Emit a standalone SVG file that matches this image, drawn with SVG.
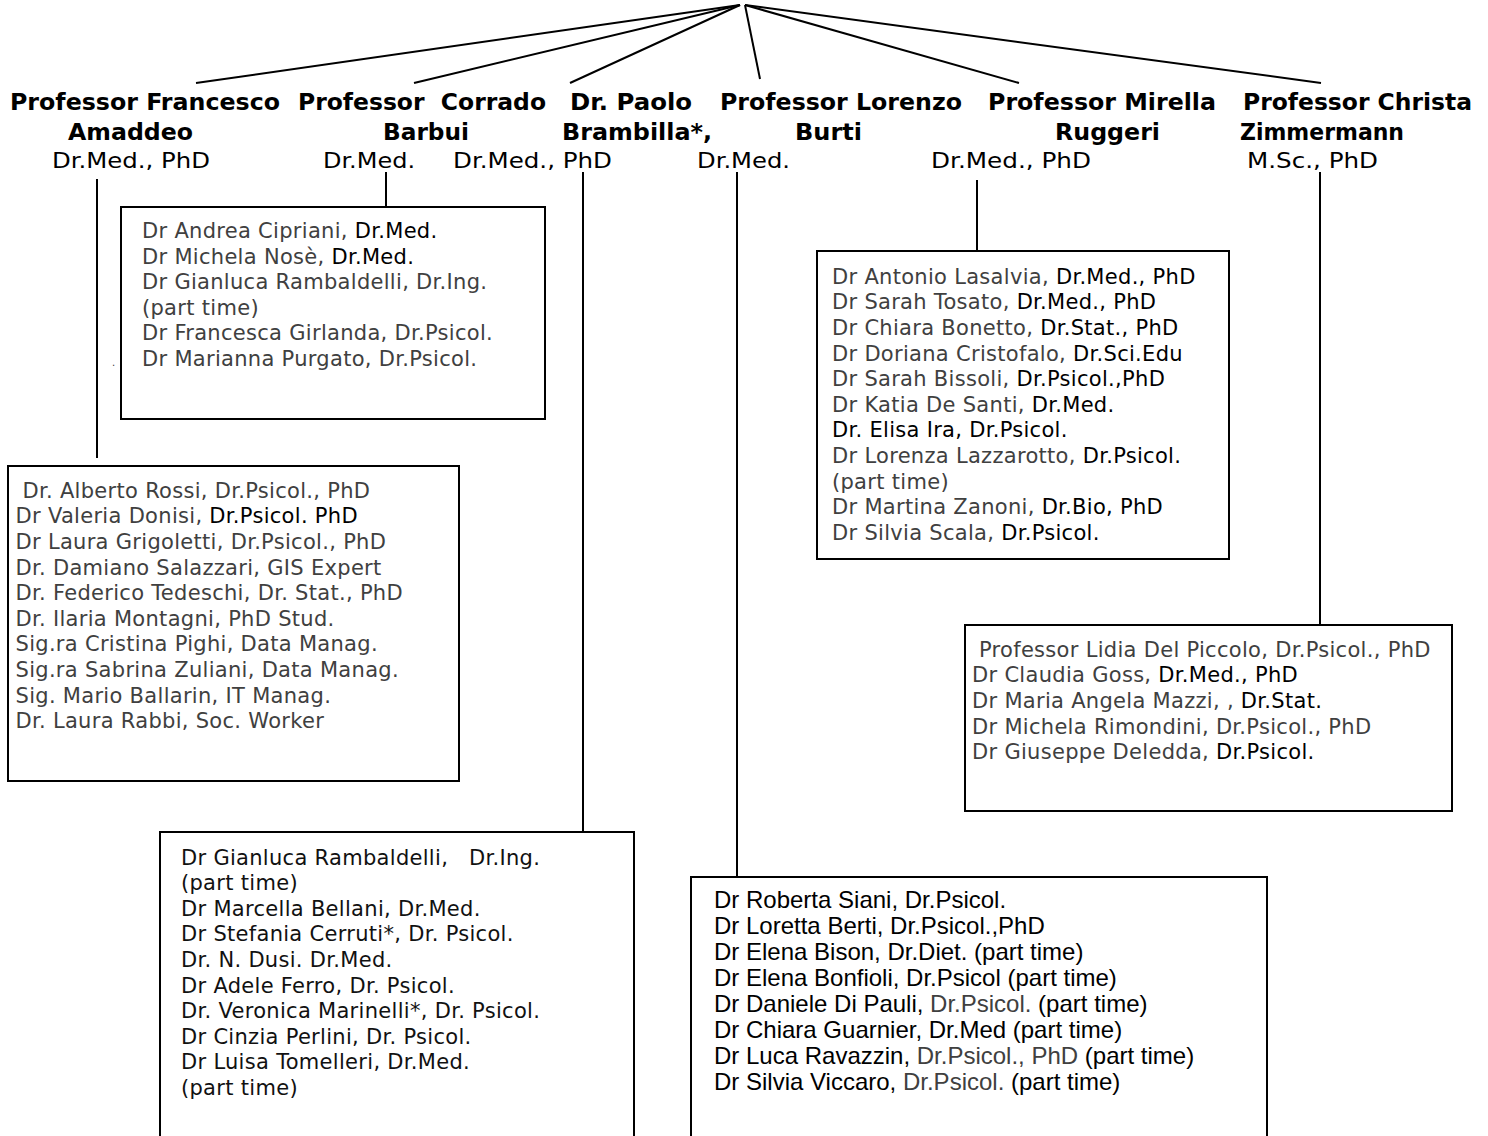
<svg xmlns="http://www.w3.org/2000/svg" width="1488" height="1136" viewBox="0 0 1488 1136">
<style>
.bg{fill:#fff}
.box{fill:#fff;stroke:#000;stroke-width:2}
.ln{stroke:#000;stroke-width:2;fill:none}
.h{font-family:"DejaVu Sans",Verdana,sans-serif;font-size:23px;font-weight:bold;fill:#000}
.hr{font-family:"DejaVu Sans",Verdana,sans-serif;font-size:22px;fill:#000}
.t{font-family:"DejaVu Sans",Verdana,sans-serif;font-size:21px;letter-spacing:0.3px;fill:#404040;white-space:pre}
.tb{font-family:"DejaVu Sans",Verdana,sans-serif;font-size:21px;letter-spacing:0.3px;fill:#111;white-space:pre}
.ta{font-family:"Liberation Sans",Arial,sans-serif;font-size:24px;fill:#000;white-space:pre}
.k{fill:#000}
.g{fill:#404040}
</style>
<rect class="bg" x="0" y="0" width="1488" height="1136"/>

<g id="connectors">
  <line class="ln" x1="740" y1="5" x2="196" y2="83"/>
  <line class="ln" x1="740" y1="5" x2="414" y2="83"/>
  <line class="ln" x1="740" y1="5" x2="570" y2="83"/>
  <line class="ln" x1="745" y1="5" x2="760" y2="79"/>
  <line class="ln" x1="745" y1="5" x2="1019" y2="83"/>
  <line class="ln" x1="745" y1="5" x2="1321" y2="83"/>
  <line class="ln" x1="97" y1="179" x2="97" y2="458"/>
  <line class="ln" x1="386" y1="172" x2="386" y2="207"/>
  <line class="ln" x1="583" y1="172" x2="583" y2="832"/>
  <line class="ln" x1="737" y1="172" x2="737" y2="877"/>
  <line class="ln" x1="977" y1="180" x2="977" y2="251"/>
  <line class="ln" x1="1320" y1="172" x2="1320" y2="625"/>
</g>

<g id="head-amaddeo">
  <text class="h" x="10" y="110" textLength="270" lengthAdjust="spacingAndGlyphs">Professor Francesco</text>
  <text class="h" x="68" y="140" textLength="125" lengthAdjust="spacingAndGlyphs">Amaddeo</text>
  <text class="hr" x="52" y="168" textLength="158" lengthAdjust="spacingAndGlyphs">Dr.Med., PhD</text>
</g>
<g id="head-barbui">
  <text class="h" x="298" y="110" textLength="248" lengthAdjust="spacingAndGlyphs" style="white-space:pre">Professor  Corrado</text>
  <text class="h" x="383" y="140" textLength="86" lengthAdjust="spacingAndGlyphs">Barbui</text>
  <text class="hr" x="323" y="168" textLength="92" lengthAdjust="spacingAndGlyphs">Dr.Med.</text>
</g>
<g id="head-brambilla">
  <text class="h" x="570" y="110" textLength="122" lengthAdjust="spacingAndGlyphs">Dr. Paolo</text>
  <text class="h" x="562" y="140" textLength="150" lengthAdjust="spacingAndGlyphs">Brambilla*,</text>
  <text class="hr" x="453" y="168" textLength="159" lengthAdjust="spacingAndGlyphs">Dr.Med., PhD</text>
</g>
<g id="head-burti">
  <text class="h" x="720" y="110" textLength="242" lengthAdjust="spacingAndGlyphs">Professor Lorenzo</text>
  <text class="h" x="795" y="140" textLength="67" lengthAdjust="spacingAndGlyphs">Burti</text>
  <text class="hr" x="697" y="168" textLength="93" lengthAdjust="spacingAndGlyphs">Dr.Med.</text>
</g>
<g id="head-ruggeri">
  <text class="h" x="988" y="110" textLength="228" lengthAdjust="spacingAndGlyphs">Professor Mirella</text>
  <text class="h" x="1055" y="140" textLength="105" lengthAdjust="spacingAndGlyphs">Ruggeri</text>
  <text class="hr" x="931" y="168" textLength="160" lengthAdjust="spacingAndGlyphs">Dr.Med., PhD</text>
</g>
<g id="head-zimmermann">
  <text class="h" x="1243" y="110" textLength="229" lengthAdjust="spacingAndGlyphs">Professor Christa</text>
  <text class="h" x="1240" y="140" textLength="164" lengthAdjust="spacingAndGlyphs">Zimmermann</text>
  <text class="hr" x="1247" y="168" textLength="131" lengthAdjust="spacingAndGlyphs">M.Sc., PhD</text>
</g>

<g id="box-barbui">
  <rect class="box" x="121" y="207" width="424" height="212"/>
  <text class="t" x="142" y="238">Dr Andrea Cipriani, <tspan class="k">Dr.Med.</tspan></text>
  <text class="t" x="142" y="263.6">Dr Michela Nosè, <tspan class="k">Dr.Med.</tspan></text>
  <text class="t" x="142" y="289.2">Dr Gianluca Rambaldelli, Dr.Ing.</text>
  <text class="t" x="142" y="314.8">(part time)</text>
  <text class="t" x="142" y="340.4">Dr Francesca Girlanda, Dr.Psicol.</text>
  <text class="t" x="142" y="366">Dr Marianna Purgato, Dr.Psicol.</text>
  <text class="t" x="112" y="366" style="font-size:10px">.</text>
</g>

<g id="box-amaddeo">
  <rect class="box" x="8" y="466" width="451" height="315"/>
  <text class="t" x="15.5" y="497.5"> Dr. Alberto Rossi, Dr.Psicol., PhD</text>
  <text class="t" x="15.5" y="523.2">Dr Valeria Donisi, <tspan class="k">Dr.Psicol. PhD</tspan></text>
  <text class="t" x="15.5" y="548.8">Dr Laura Grigoletti, Dr.Psicol., PhD</text>
  <text class="t" x="15.5" y="574.5">Dr. Damiano Salazzari, GIS Expert</text>
  <text class="t" x="15.5" y="600.1">Dr. Federico Tedeschi, Dr. Stat., PhD</text>
  <text class="t" x="15.5" y="625.8">Dr. Ilaria Montagni, PhD Stud.</text>
  <text class="t" x="15.5" y="651.4">Sig.ra Cristina Pighi, Data Manag.</text>
  <text class="t" x="15.5" y="677.1">Sig.ra Sabrina Zuliani, Data Manag.</text>
  <text class="t" x="15.5" y="702.7">Sig. Mario Ballarin, IT Manag.</text>
  <text class="t" x="15.5" y="728.4">Dr. Laura Rabbi, Soc. Worker</text>
</g>

<g id="box-ruggeri">
  <rect class="box" x="817" y="251" width="412" height="308"/>
  <text class="t" x="832" y="283.5">Dr Antonio Lasalvia, <tspan class="k">Dr.Med., PhD</tspan></text>
  <text class="t" x="832" y="309.2">Dr Sarah Tosato, <tspan class="k">Dr.Med., PhD</tspan></text>
  <text class="t" x="832" y="334.8">Dr Chiara Bonetto, <tspan class="k">Dr.Stat., PhD</tspan></text>
  <text class="t" x="832" y="360.5">Dr Doriana Cristofalo, <tspan class="k">Dr.Sci.Edu</tspan></text>
  <text class="t" x="832" y="386.1">Dr Sarah Bissoli, <tspan class="k">Dr.Psicol.,PhD</tspan></text>
  <text class="t" x="832" y="411.8">Dr Katia De Santi, <tspan class="k">Dr.Med.</tspan></text>
  <text class="t" x="832" y="437.4"><tspan class="k">Dr. Elisa Ira, Dr.Psicol.</tspan></text>
  <text class="t" x="832" y="463.1">Dr Lorenza Lazzarotto, <tspan class="k">Dr.Psicol.</tspan></text>
  <text class="t" x="832" y="488.7">(part time)</text>
  <text class="t" x="832" y="514.4">Dr Martina Zanoni, <tspan class="k">Dr.Bio, PhD</tspan></text>
  <text class="t" x="832" y="540">Dr Silvia Scala, <tspan class="k">Dr.Psicol.</tspan></text>
</g>

<g id="box-zimmermann">
  <rect class="box" x="965" y="625" width="487" height="186"/>
  <text class="t" x="972" y="656.5"> Professor Lidia Del Piccolo, Dr.Psicol., PhD</text>
  <text class="t" x="972" y="682.2">Dr Claudia Goss, <tspan class="k">Dr.Med., PhD</tspan></text>
  <text class="t" x="972" y="707.8">Dr Maria Angela Mazzi, , <tspan class="k">Dr.Stat.</tspan></text>
  <text class="t" x="972" y="733.5">Dr Michela Rimondini, Dr.Psicol., PhD</text>
  <text class="t" x="972" y="759.1">Dr Giuseppe Deledda, <tspan class="k">Dr.Psicol.</tspan></text>
</g>

<g id="box-brambilla">
  <rect class="box" x="160" y="832" width="474" height="320"/>
  <text class="tb" x="181" y="864.5">Dr Gianluca Rambaldelli,   Dr.Ing.</text>
  <text class="tb" x="181" y="890.1">(part time)</text>
  <text class="tb" x="181" y="915.7">Dr Marcella Bellani, Dr.Med.</text>
  <text class="tb" x="181" y="941.3">Dr Stefania Cerruti*, Dr. Psicol.</text>
  <text class="tb" x="181" y="966.9">Dr. N. Dusi. Dr.Med.</text>
  <text class="tb" x="181" y="992.5">Dr Adele Ferro, Dr. Psicol.</text>
  <text class="tb" x="181" y="1018.1">Dr. Veronica Marinelli*, Dr. Psicol.</text>
  <text class="tb" x="181" y="1043.7">Dr Cinzia Perlini, Dr. Psicol.</text>
  <text class="tb" x="181" y="1069.3">Dr Luisa Tomelleri, Dr.Med.</text>
  <text class="tb" x="181" y="1094.9">(part time)</text>
</g>

<g id="box-burti">
  <rect class="box" x="691" y="877" width="576" height="275"/>
  <text class="ta" x="714" y="908">Dr Roberta Siani, Dr.Psicol.</text>
  <text class="ta" x="714" y="934">Dr Loretta Berti, Dr.Psicol.,PhD</text>
  <text class="ta" x="714" y="960">Dr Elena Bison, Dr.Diet. (part time)</text>
  <text class="ta" x="714" y="986">Dr Elena Bonfioli, Dr.Psicol (part time)</text>
  <text class="ta" x="714" y="1012">Dr Daniele Di Pauli, <tspan class="g">Dr.Psicol.</tspan> (part time)</text>
  <text class="ta" x="714" y="1038">Dr Chiara Guarnier, Dr.Med (part time)</text>
  <text class="ta" x="714" y="1064">Dr Luca Ravazzin, <tspan class="g">Dr.Psicol., PhD</tspan> (part time)</text>
  <text class="ta" x="714" y="1090">Dr Silvia Viccaro, <tspan class="g">Dr.Psicol.</tspan> (part time)</text>
</g>
</svg>
